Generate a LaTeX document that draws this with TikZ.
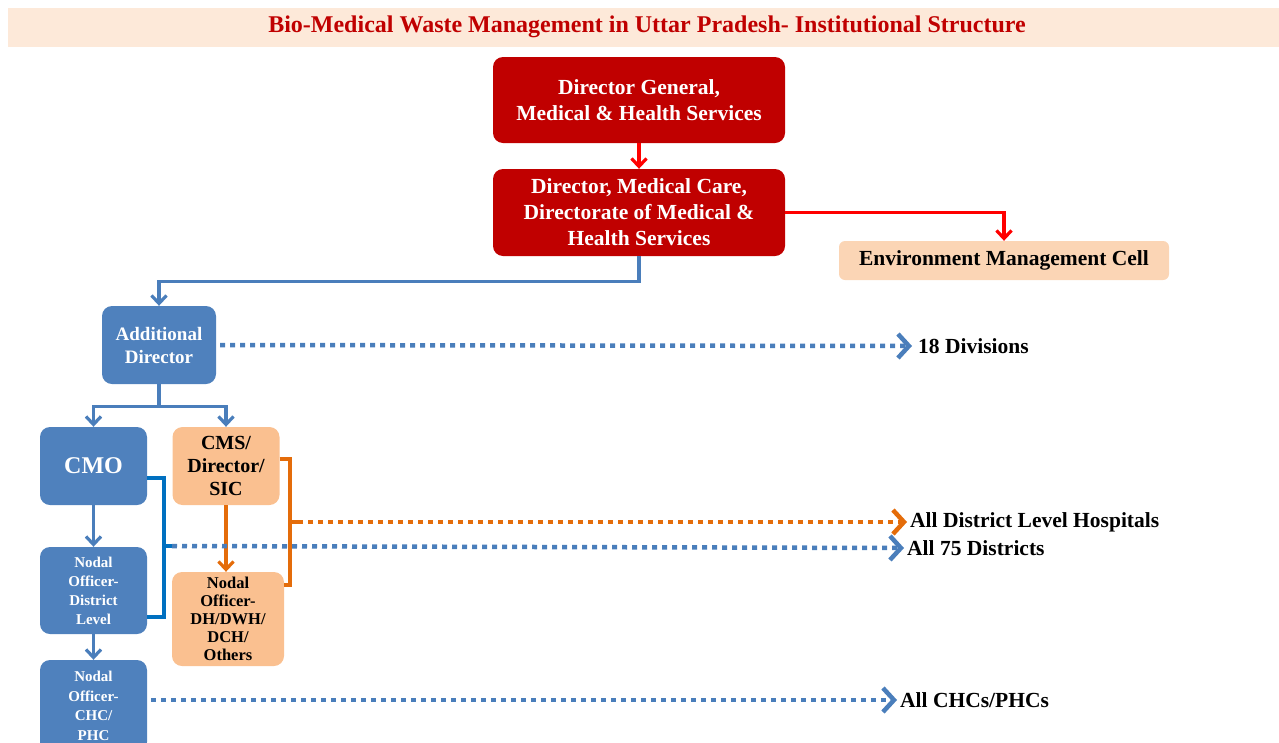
\documentclass[tikz,border=0pt]{standalone}
\usepackage{fontspec}
\setmainfont{Liberation Serif}
\usetikzlibrary{arrows.meta}
\definecolor{boxred}{HTML}{C00000}
\definecolor{linered}{HTML}{FF0000}
\definecolor{boxblue}{HTML}{4F81BD}
\definecolor{lineblue}{HTML}{4A7EBB}
\definecolor{braceblue}{HTML}{0070C0}
\definecolor{boxpeach}{HTML}{FAC090}
\definecolor{cellpeach}{HTML}{FBD5B5}
\definecolor{bandpeach}{HTML}{FDE9D9}
\definecolor{lineorange}{HTML}{E46C0A}
\tikzset{
  basebox/.style={rounded corners=10pt, align=center, inner sep=0pt, font=\bfseries},
  redbox/.style={basebox, fill=boxred, text=white, minimum width=292pt, font=\bfseries\fontsize{21.5}{26}\selectfont},
  bluebox/.style={basebox, fill=boxblue, text=white, minimum width=107pt},
  peachbox/.style={basebox, fill=boxpeach, text=black, minimum width=107pt},
  lbl/.style={anchor=west, inner sep=0pt, font=\bfseries\fontsize{21.5}{24}\selectfont},
  tipsolid/.style={-{Straight Barb[length=8pt,width=15pt]}},
  redarrow/.style={draw=linered, line width=3.2pt, tipsolid},
  bluearrow/.style={draw=lineblue, line width=3.2pt, tipsolid},
  braceline/.style={line width=3.2pt},
  dotline/.style={line width=4.5pt, dash pattern=on 5pt off 5pt,
    -{Straight Barb[length=11pt,width=24pt,line width=4.5pt]}},
}
\begin{document}
\begin{tikzpicture}[x=1pt,y=-1pt]
\useasboundingbox (0,0) rectangle (1279,742);
\clip (0,0) rectangle (1279,742);

% title band
\fill[bandpeach] (8,8) rectangle (1279,47);
\node[font=\bfseries\fontsize{24}{26}\selectfont, text=boxred] (title) at (647,27)
  {Bio-Medical Waste Management in Uttar Pradesh- Institutional Structure};

% top of the hierarchy
\node[redbox, minimum height=86pt] (dg) at (639,100) {Director General,\\Medical \& Health Services};
\node[redbox, minimum height=87pt] (dir) at (639,212.5) {Director, Medical Care,\\Directorate of Medical \&\\Health Services};
\node[basebox, fill=cellpeach, minimum width=330pt, minimum height=39pt, rounded corners=6pt,
  font=\bfseries\fontsize{21.5}{24}\selectfont] (env) at (1004,260.5) {Environment Management Cell};

% state level
\node[bluebox, minimum width=114pt, minimum height=78pt, font=\bfseries\fontsize{19}{23}\selectfont] (add) at (159,345) {Additional\\Director};

% district level
\node[bluebox, minimum height=78pt, font=\bfseries\fontsize{24}{26}\selectfont] (cmo) at (93.5,466) {CMO};
\node[peachbox, minimum height=78pt, font=\bfseries\fontsize{20}{23}\selectfont] (cms) at (226,466) {CMS/\\Director/\\SIC};
\node[bluebox, minimum height=87pt, font=\bfseries\fontsize{15}{19}\selectfont] (ndl) at (93.5,590.5) {Nodal\\Officer-\\District\\Level};
\node[peachbox, minimum width=112pt, minimum height=94pt, font=\bfseries\fontsize{16.5}{18}\selectfont] (ndh) at (228,619) {Nodal\\Officer-\\DH/DWH/\\DCH/\\Others};
\node[bluebox, minimum height=92pt, font=\bfseries\fontsize{15}{19.5}\selectfont] (nchc) at (93.5,706) {Nodal\\Officer-\\CHC/\\PHC};

% right-hand targets
\node[lbl] (div) at (918,346) {18 Divisions};
\node[lbl] (hosp) at (910,522) {All District Level Hospitals};
\node[lbl] (dist) at (907,548) {All 75 Districts};
\node[lbl] (chc) at (900,700) {All CHCs/PHCs};

% solid connectors
\draw[redarrow] (dg.south) -- (dir.north);
\draw[redarrow] (dir.east) -| (env.north);
\draw[bluearrow] (dir.south) -- ++(0,25) -| (add.north);
\draw[bluearrow] (add.south) -- ++(0,22) -| (cmo.north);
\draw[bluearrow] (add.south) -- ++(0,22) -| (cms.north);
\draw[bluearrow] (cmo.south) -- (ndl.north);
\draw[bluearrow] (ndl.south) -- (nchc.north);
\draw[draw=lineorange, line width=3.2pt, tipsolid] (cms.south) -- (cms.south |- ndh.north);

% brace joining CMO and the district nodal officer
\coordinate (bb) at (164,546);
\draw[braceline, braceblue] ([yshift=-12pt]cmo.east) -| (bb) |- ([yshift=-26.5pt]ndl.east);
\draw[braceline, braceblue] (bb) -- ++(8,0) coordinate (bbs);
\draw[dotline, lineblue] (bbs) -- ([xshift=-3pt]dist.west);

% brace joining CMS and the hospital nodal officer
\coordinate (ob) at (290,522);
\draw[braceline, lineorange] ([yshift=7pt]cms.east) -| (ob) |- ([yshift=34pt]ndh.east);
\draw[braceline, lineorange] (ob) -- ++(8,0) coordinate (obs);
\draw[dotline, lineorange] (obs) -- ([xshift=-3pt]hosp.west);

% dotted links to the field
\draw[dotline, lineblue] ([xshift=4pt]add.east) -- ([xshift=-6pt]div.west);
\draw[dotline, lineblue] ([xshift=4pt]nchc.east |- chc.west) -- ([xshift=-3pt]chc.west);
\end{tikzpicture}
\end{document}
